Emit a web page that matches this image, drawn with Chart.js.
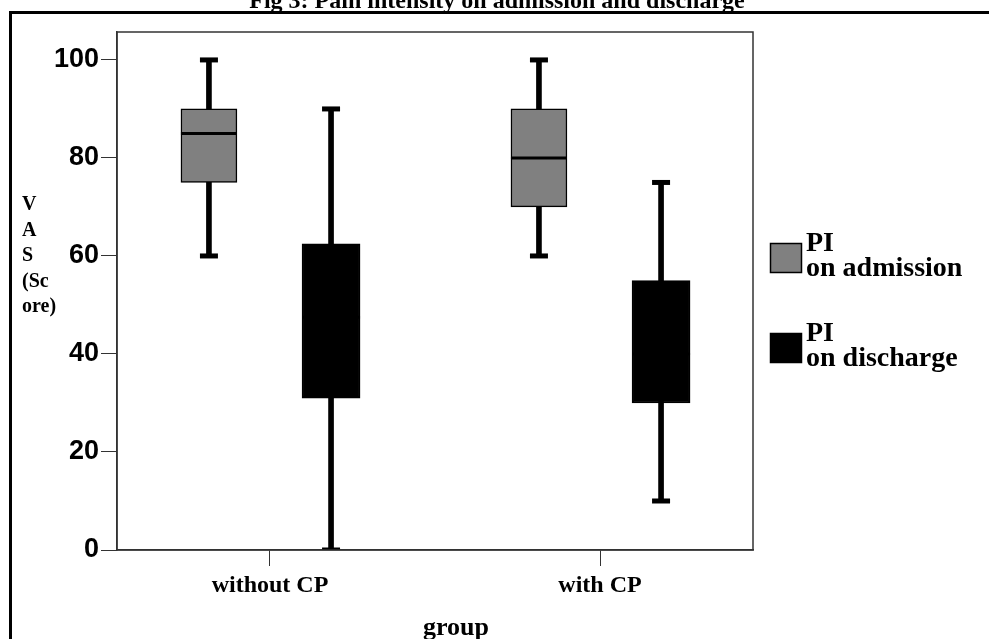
<!DOCTYPE html>
<html>
<head>
<meta charset="utf-8">
<script src="https://cdn.jsdelivr.net/npm/chart.js@4.4.1/dist/chart.umd.min.js"></script>
<style>
  html, body { margin: 0; padding: 0; background: #fff; }
  #wrap { position: relative; width: 989px; height: 639px; }
</style>
</head>
<body>
<div id="wrap"><canvas id="chart" width="989" height="639"></canvas></div>
<script>
var groups = ['without CP', 'with CP'];
var seriesNames = [['PI', 'on admission'], ['PI', 'on discharge']];

// five-number summaries, one entry per group
var admissionMin = [60, 60];
var admissionQ1 = [75, 70];
var admissionMedian = [85, 80];
var admissionQ3 = [90, 90];
var admissionMax = [100, 100];

var dischargeMin = [0, 10];
var dischargeQ1 = [31, 30];
var dischargeMedian = [47.5, 40];
var dischargeQ3 = [62.5, 55];
var dischargeMax = [90, 75];

var yTicks = [0, 20, 40, 60, 80, 100];

var serif = '"Liberation Serif", "Times New Roman", serif';
var sans = '"Liberation Sans", Arial, sans-serif';

// where each series sits inside its group (in group units)
var offsets = [-0.185, 0.185];

function range(lo, hi, off) {
  return groups.map(function(g, i) {
    return { x: i + off, y: [lo[i], hi[i]] };
  });
}

function points(vals, off) {
  return groups.map(function(g, i) {
    return { x: i + off, y: vals[i] };
  });
}

var series = [
  { name: seriesNames[0], min: admissionMin, q1: admissionQ1, med: admissionMedian, q3: admissionQ3, max: admissionMax, fill: '#808080', width: 56 },
  { name: seriesNames[1], min: dischargeMin, q1: dischargeQ1, med: dischargeMedian, q3: dischargeQ3, max: dischargeMax, fill: '#000000', width: 58 }
];

var datasets = [];
series.forEach(function(s, k) {
  var off = offsets[k];
  // whisker
  datasets.push({
    type: 'bar',
    data: range(s.min, s.max, off),
    backgroundColor: '#000',
    barThickness: 5,
    maxBarThickness: 5,
    grouped: false,
    order: 3
  });
  // box
  datasets.push({
    type: 'bar',
    label: s.name.join(' '),
    legendLines: s.name,
    isBox: true,
    data: range(s.q1, s.q3, off),
    backgroundColor: s.fill,
    borderColor: '#000',
    borderWidth: 1.5,
    borderSkipped: false,
    barThickness: s.width,
    maxBarThickness: s.width,
    grouped: false,
    order: 2
  });
  // caps
  datasets.push({
    type: 'scatter',
    data: points(s.min, off).concat(points(s.max, off)),
    pointStyle: 'line',
    radius: 9,
    borderWidth: 5,
    borderColor: '#000',
    order: 1
  });
  // median
  datasets.push({
    type: 'scatter',
    data: points(s.med, off),
    pointStyle: 'line',
    radius: s.width / 2,
    borderWidth: 3,
    borderColor: '#000',
    order: 1
  });
});

var decor = {
  id: 'decor',
  beforeDraw: function(chart) {
    var ctx = chart.ctx;
    ctx.save();
    // outer frame (left and top edges)
    ctx.strokeStyle = '#000';
    ctx.lineWidth = 3;
    ctx.beginPath();
    ctx.moveTo(10.5, 639);
    ctx.lineTo(10.5, 12.5);
    ctx.lineTo(989, 12.5);
    ctx.stroke();
    // title, cut by the top edge
    ctx.fillStyle = '#000';
    ctx.font = 'bold 24px ' + serif;
    ctx.textAlign = 'center';
    ctx.textBaseline = 'alphabetic';
    ctx.fillText('Fig 3: Pain intensity on admission and discharge', 497, 8);
    ctx.restore();
  },
  afterDraw: function(chart) {
    var ctx = chart.ctx;
    var a = chart.chartArea;
    ctx.save();
    ctx.strokeStyle = '#333';
    ctx.lineWidth = 1.5;
    ctx.strokeRect(a.left, a.top, a.right - a.left, a.bottom - a.top);

    ctx.fillStyle = '#000';
    ctx.textAlign = 'left';
    ctx.textBaseline = 'alphabetic';
    // y title written down the side
    ctx.font = 'bold 20px ' + serif;
    ['V', 'A', 'S', '(Sc', 'ore)'].forEach(function(t, i) {
      ctx.fillText(t, 22, 210 + i * 25.5);
    });
    // x title
    ctx.font = 'bold 26px ' + serif;
    ctx.textAlign = 'center';
    ctx.fillText('group', 456, 635);

    // legend
    var y0 = [243, 333];
    var n = 0;
    chart.data.datasets.forEach(function(ds) {
      if (!ds.isBox) return;
      var top = y0[n++];
      ctx.fillStyle = ds.backgroundColor;
      ctx.fillRect(770, top, 32, 30);
      ctx.strokeStyle = '#000';
      ctx.lineWidth = 1.5;
      ctx.strokeRect(770.5, top + 0.5, 31, 29);
      ctx.fillStyle = '#000';
      ctx.font = 'bold 28px ' + serif;
      ctx.textAlign = 'left';
      ctx.fillText(ds.legendLines[0], 806, top + 8);
      ctx.fillText(ds.legendLines[1], 806, top + 33);
    });
    ctx.restore();
  }
};

new Chart(document.getElementById('chart'), {
  type: 'bar',
  data: { datasets: datasets },
  options: {
    responsive: false,
    animation: false,
    layout: { padding: { left: 0, top: 31, right: 236, bottom: 0 } },
    plugins: {
      legend: { display: false },
      tooltip: { enabled: false },
      title: { display: false }
    },
    scales: {
      x: {
        type: 'linear',
        offset: false,
        min: -0.4636,
        max: 1.4636,
        afterBuildTicks: function(scale) {
          scale.ticks = groups.map(function(g, i) { return { value: i }; });
        },
        afterFit: function(scale) { scale.height = 89; },
        grid: { offset: false, drawOnChartArea: false, drawTicks: true, tickLength: 16, color: '#333', lineWidth: 1 },
        border: { display: true, color: '#333', width: 1.5 },
        ticks: {
          color: '#000',
          font: { family: serif, size: 24, weight: 'bold' },
          padding: 5,
          maxRotation: 0,
          autoSkip: false,
          callback: function(v) { return groups[v]; }
        }
      },
      y: {
        min: 0,
        max: 105.7,
        afterBuildTicks: function(scale) {
          scale.ticks = yTicks.map(function(v) { return { value: v }; });
        },
        afterFit: function(scale) { scale.width = 117; },
        grid: { drawOnChartArea: false, drawTicks: true, tickLength: 16, color: '#333', lineWidth: 1 },
        border: { display: true, color: '#333', width: 1.5 },
        ticks: {
          color: '#000',
          font: { family: sans, size: 27, weight: 'bold' },
          padding: 2
        }
      }
    }
  },
  plugins: [decor]
});
</script>
</body>
</html>
